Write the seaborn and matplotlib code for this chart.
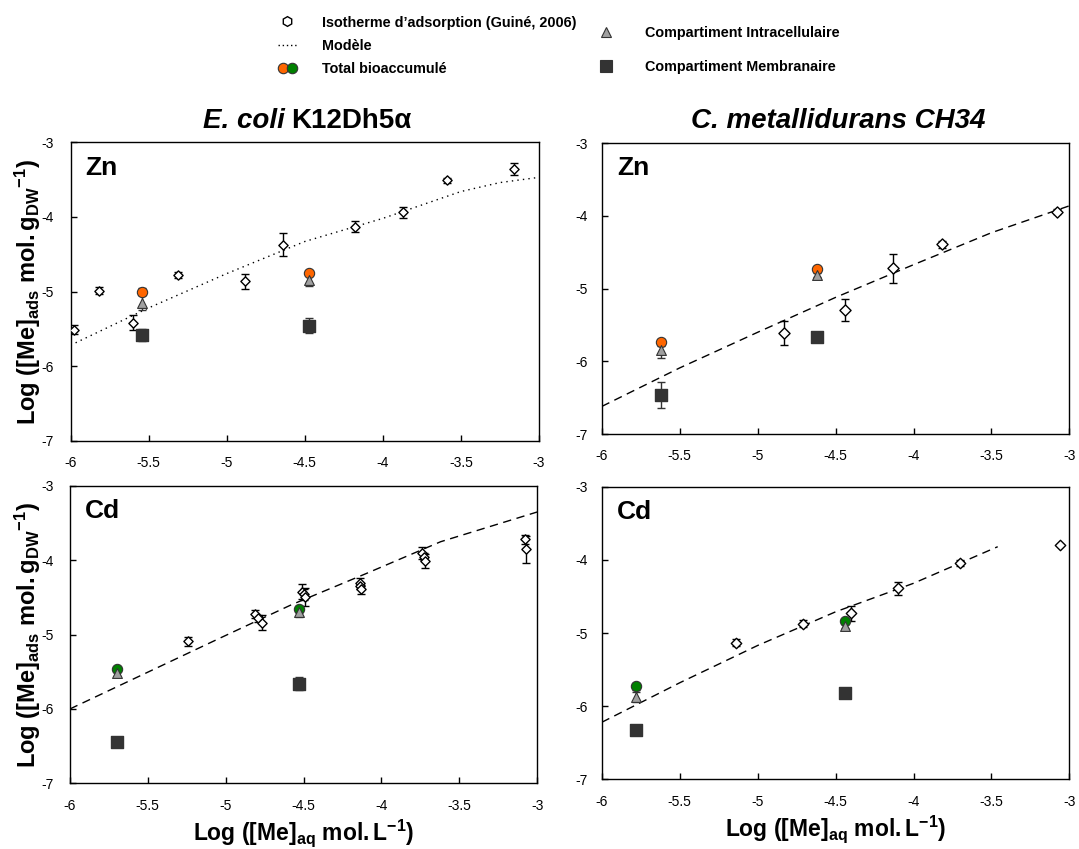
import matplotlib
matplotlib.use("Agg")
import matplotlib.pyplot as plt
import seaborn as sns
from matplotlib.lines import Line2D
from matplotlib.legend_handler import HandlerTuple
from matplotlib.ticker import FuncFormatter, MultipleLocator

# --- E. coli, Zn ---
ecoli_zn_iso_x = [-5.98, -5.82, -5.60, -5.31, -4.88, -4.64, -4.18, -3.87, -3.59, -3.16]
ecoli_zn_iso_y = [-5.51, -4.99, -5.42, -4.78, -4.86, -4.37, -4.13, -3.94, -3.51, -3.36]
ecoli_zn_iso_err = [0.06, 0.05, 0.10, 0.04, 0.10, 0.15, 0.07, 0.07, 0.03, 0.08]
ecoli_zn_model_x = [-6.0, -5.5, -5.0, -4.5, -4.0, -3.5, -3.25, -3.0]
ecoli_zn_model_y = [-5.72, -5.22, -4.76, -4.33, -4.02, -3.66, -3.54, -3.47]
ecoli_zn_exp_x = [-5.54, -4.47]
ecoli_zn_total = [-5.00, -4.75]
ecoli_zn_total_err = [0.05, 0.03]
ecoli_zn_intra = [-5.15, -4.85]
ecoli_zn_intra_err = [0.10, 0.08]
ecoli_zn_membr = [-5.58, -5.46]
ecoli_zn_membr_err = [0.08, 0.10]

# --- C. metallidurans, Zn ---
cmet_zn_iso_x = [-4.83, -4.44, -4.13, -3.82, -3.08]
cmet_zn_iso_y = [-5.61, -5.29, -4.72, -4.39, -3.94]
cmet_zn_iso_err = [0.17, 0.15, 0.20, 0.05, 0.03]
cmet_zn_model_x = [-6.0, -5.5, -5.0, -4.5, -4.0, -3.5, -3.0]
cmet_zn_model_y = [-6.62, -6.09, -5.60, -5.12, -4.67, -4.23, -3.86]
cmet_zn_exp_x = [-5.62, -4.62]
cmet_zn_total = [-5.74, -4.73]
cmet_zn_total_err = [0.05, 0.03]
cmet_zn_intra = [-5.84, -4.81]
cmet_zn_intra_err = [0.11, 0.03]
cmet_zn_membr = [-6.46, -5.66]
cmet_zn_membr_err = [0.18, 0.0]

# --- E. coli, Cd ---
ecoli_cd_iso_x = [-5.24, -4.81, -4.79, -4.77, -4.51, -4.50, -4.49, -4.14, -4.14, -4.13,
                  -3.74, -3.73, -3.72, -3.08, -3.07]
ecoli_cd_iso_y = [-5.09, -4.72, -4.78, -4.84, -4.42, -4.46, -4.49, -4.30, -4.35, -4.39,
                  -3.90, -3.95, -4.01, -3.72, -3.85]
ecoli_cd_iso_err = [0.06, 0.05, 0.05, 0.10, 0.10, 0.08, 0.12, 0.06, 0.04, 0.06,
                    0.08, 0.05, 0.09, 0.06, 0.18]
ecoli_cd_model_x = [-6.0, -5.04, -4.58, -4.10, -3.62, -3.0]
ecoli_cd_model_y = [-6.0, -5.05, -4.60, -4.18, -3.75, -3.35]
ecoli_cd_exp_x = [-5.70, -4.53]
ecoli_cd_total = [-5.46, -4.65]
ecoli_cd_total_err = [0.03, 0.04]
ecoli_cd_intra = [-5.52, -4.70]
ecoli_cd_intra_err = [0.03, 0.06]
ecoli_cd_membr = [-6.44, -5.66]
ecoli_cd_membr_err = [0.03, 0.09]

# --- C. metallidurans, Cd ---
cmet_cd_iso_x = [-5.14, -4.71, -4.40, -4.10, -3.70, -3.06]
cmet_cd_iso_y = [-5.13, -4.87, -4.73, -4.39, -4.04, -3.80]
cmet_cd_iso_err = [0.05, 0.05, 0.10, 0.09, 0.04, 0.0]
cmet_cd_model_x = [-6.0, -5.5, -5.0, -4.5, -4.0, -3.46]
cmet_cd_model_y = [-6.22, -5.68, -5.17, -4.71, -4.32, -3.82]
cmet_cd_exp_x = [-5.78, -4.44]
cmet_cd_total = [-5.73, -4.84]
cmet_cd_total_err = [0.05, 0.03]
cmet_cd_intra = [-5.88, -4.90]
cmet_cd_intra_err = [0.07, 0.03]
cmet_cd_membr = [-6.32, -5.82]
cmet_cd_membr_err = [0.0, 0.0]

ORANGE = "#FF6600"
GREEN = "#008000"
GREY = "#A0A0A0"
DARK = "#333333"

sns.set_theme(style="ticks")
plt.rcParams['font.family'] = ['Liberation Sans', 'DejaVu Sans']
plt.rcParams['mathtext.fontset'] = 'custom'
plt.rcParams['mathtext.rm'] = 'Liberation Sans'
plt.rcParams['mathtext.bf'] = 'Liberation Sans:bold'
plt.rcParams['mathtext.it'] = 'Liberation Sans:italic'
plt.rcParams['axes.unicode_minus'] = False
plt.rcParams['axes.edgecolor'] = 'black'
plt.rcParams['text.color'] = 'black'
plt.rcParams['axes.labelcolor'] = 'black'
plt.rcParams['xtick.color'] = 'black'
plt.rcParams['ytick.color'] = 'black'


def draw_panel(ax, metal, iso_x, iso_y, iso_err, mod_x, mod_y, mod_ls,
               exp_x, total, total_err, intra, intra_err, membr, membr_err,
               total_color, dsize, ypad):
    sns.lineplot(x=mod_x, y=mod_y, ax=ax, color='black', lw=1.0,
                 linestyle=mod_ls, sort=False, estimator=None, zorder=2)
    ax.errorbar(iso_x, iso_y, yerr=iso_err, fmt='none', ecolor='black',
                elinewidth=1, capsize=3, capthick=1, zorder=3)
    ax.errorbar(exp_x, membr, yerr=membr_err, fmt='none', ecolor=DARK,
                elinewidth=1, capsize=3, capthick=1, zorder=3)
    ax.errorbar(exp_x, total, yerr=total_err, fmt='none', ecolor=DARK,
                elinewidth=1, capsize=3, capthick=1, zorder=3)
    ax.errorbar(exp_x, intra, yerr=intra_err, fmt='none', ecolor=DARK,
                elinewidth=1, capsize=3, capthick=1, zorder=3)
    sns.scatterplot(x=iso_x, y=iso_y, ax=ax, marker='D', s=dsize,
                    color='white', edgecolor='black', linewidth=1, zorder=4)
    sns.scatterplot(x=exp_x, y=membr, ax=ax, marker='s', s=70,
                    color=DARK, edgecolor=DARK, linewidth=1, zorder=4)
    sns.scatterplot(x=exp_x, y=total, ax=ax, marker='o', s=55,
                    color=total_color, edgecolor=DARK, linewidth=0.8, zorder=5)
    sns.scatterplot(x=exp_x, y=intra, ax=ax, marker='^', s=50,
                    color=GREY, edgecolor=DARK, linewidth=0.8, zorder=6)

    ax.set_xlim(-6, -3)
    ax.set_ylim(-7, -3)
    ax.xaxis.set_major_locator(MultipleLocator(0.5))
    ax.yaxis.set_major_locator(MultipleLocator(1))
    fmt = FuncFormatter(lambda v, p: f"{v:g}")
    ax.xaxis.set_major_formatter(fmt)
    ax.yaxis.set_major_formatter(fmt)
    ax.tick_params(direction='in', length=4, width=1, labelsize=10,
                   colors='black', top=False, right=False)
    ax.tick_params(axis='x', pad=11)
    ax.tick_params(axis='y', pad=ypad)
    for sp in ax.spines.values():
        sp.set_visible(True)
        sp.set_linewidth(1.0)
        sp.set_color('black')
    ax.text(0.032, 0.915, metal, transform=ax.transAxes, fontsize=19,
            fontweight='bold', va='center', ha='left', color='black')
    ax.set_xlabel('')
    ax.set_ylabel('')


fig = plt.figure(figsize=(10.79, 8.49), dpi=100)
ax_tl = fig.add_axes([0.0654, 0.4809, 0.4341, 0.3515])
ax_tr = fig.add_axes([0.5578, 0.4888, 0.4333, 0.3424])
ax_bl = fig.add_axes([0.0648, 0.0774, 0.4331, 0.3502])
ax_br = fig.add_axes([0.5578, 0.0821, 0.4333, 0.3446])

draw_panel(ax_tl, "Zn", ecoli_zn_iso_x, ecoli_zn_iso_y, ecoli_zn_iso_err,
           ecoli_zn_model_x, ecoli_zn_model_y, (0, (1, 3)),
           ecoli_zn_exp_x, ecoli_zn_total, ecoli_zn_total_err,
           ecoli_zn_intra, ecoli_zn_intra_err, ecoli_zn_membr, ecoli_zn_membr_err,
           ORANGE, 22, 12)
draw_panel(ax_tr, "Zn", cmet_zn_iso_x, cmet_zn_iso_y, cmet_zn_iso_err,
           cmet_zn_model_x, cmet_zn_model_y, (0, (6, 4)),
           cmet_zn_exp_x, cmet_zn_total, cmet_zn_total_err,
           cmet_zn_intra, cmet_zn_intra_err, cmet_zn_membr, cmet_zn_membr_err,
           ORANGE, 32, 10)
draw_panel(ax_bl, "Cd", ecoli_cd_iso_x, ecoli_cd_iso_y, ecoli_cd_iso_err,
           ecoli_cd_model_x, ecoli_cd_model_y, (0, (6, 4)),
           ecoli_cd_exp_x, ecoli_cd_total, ecoli_cd_total_err,
           ecoli_cd_intra, ecoli_cd_intra_err, ecoli_cd_membr, ecoli_cd_membr_err,
           GREEN, 22, 12)
draw_panel(ax_br, "Cd", cmet_cd_iso_x, cmet_cd_iso_y, cmet_cd_iso_err,
           cmet_cd_model_x, cmet_cd_model_y, (0, (6, 4)),
           cmet_cd_exp_x, cmet_cd_total, cmet_cd_total_err,
           cmet_cd_intra, cmet_cd_intra_err, cmet_cd_membr, cmet_cd_membr_err,
           GREEN, 28, 10)

ylab = r"$\mathbf{Log\ ([Me]_{ads}\ mol{.}g_{DW}{}^{-1})}$"
xlab = r"$\mathbf{Log\ ([Me]_{aq}\ mol{.}L^{-1})}$"
for ax in (ax_tl, ax_bl):
    ax.set_ylabel(ylab, fontsize=17)
    ax.yaxis.set_label_coords(-0.058, 0.5)
for ax in (ax_bl, ax_br):
    ax.set_xlabel(xlab, fontsize=16.5, va='top')
    ax.xaxis.set_label_coords(0.5, -0.115)

# column titles
fig.text(0.2641, 0.8496, "E. coli", fontsize=20, fontweight='bold',
         style='italic', ha='right', va='baseline')
fig.text(0.2697, 0.8496, "K12Dh5α", fontsize=20, fontweight='bold',
         ha='left', va='baseline')
fig.text(0.7765, 0.8496, "C. metallidurans CH34", fontsize=20, fontweight='bold',
         style='italic', ha='center', va='baseline')

# legend
leg_font = {'weight': 'bold', 'size': 10.4}
h_iso = Line2D([], [], marker='h', ls='none', mfc='white', mec='black', ms=7, mew=1)
h_mod = Line2D([], [], ls=(0, (1, 2)), color='black', lw=1)
h_or = Line2D([], [], marker='o', ls='none', mfc=ORANGE, mec=DARK, ms=7.5, mew=0.8)
h_gr = Line2D([], [], marker='o', ls='none', mfc=GREEN, mec=DARK, ms=7.5, mew=0.8)
h_tri = Line2D([], [], marker='^', ls='none', mfc=GREY, mec=DARK, ms=7.5, mew=0.8)
h_sq = Line2D([], [], marker='s', ls='none', mfc=DARK, mec=DARK, ms=8, mew=0.8)

fig.legend([h_iso, h_mod, (h_or, h_gr)],
           ["Isotherme d\u2019adsorption (Guiné, 2006)", "Modèle", "Total bioaccumulé"],
           handler_map={tuple: HandlerTuple(ndivide=None, pad=0)},
           loc='upper left', bbox_to_anchor=(0.2576, 0.9817), frameon=False,
           prop=leg_font, handlelength=1.32, handletextpad=1.74, labelspacing=0.64,
           borderpad=0, borderaxespad=0)
fig.legend([h_tri, h_sq],
           ["Compartiment Intracellulaire", "Compartiment Membranaire"],
           loc='upper left', bbox_to_anchor=(0.5529, 0.9688), frameon=False,
           prop=leg_font, handlelength=1.32, handletextpad=2.05, labelspacing=1.38,
           borderpad=0, borderaxespad=0)

fig.savefig("out.png", dpi=100)
